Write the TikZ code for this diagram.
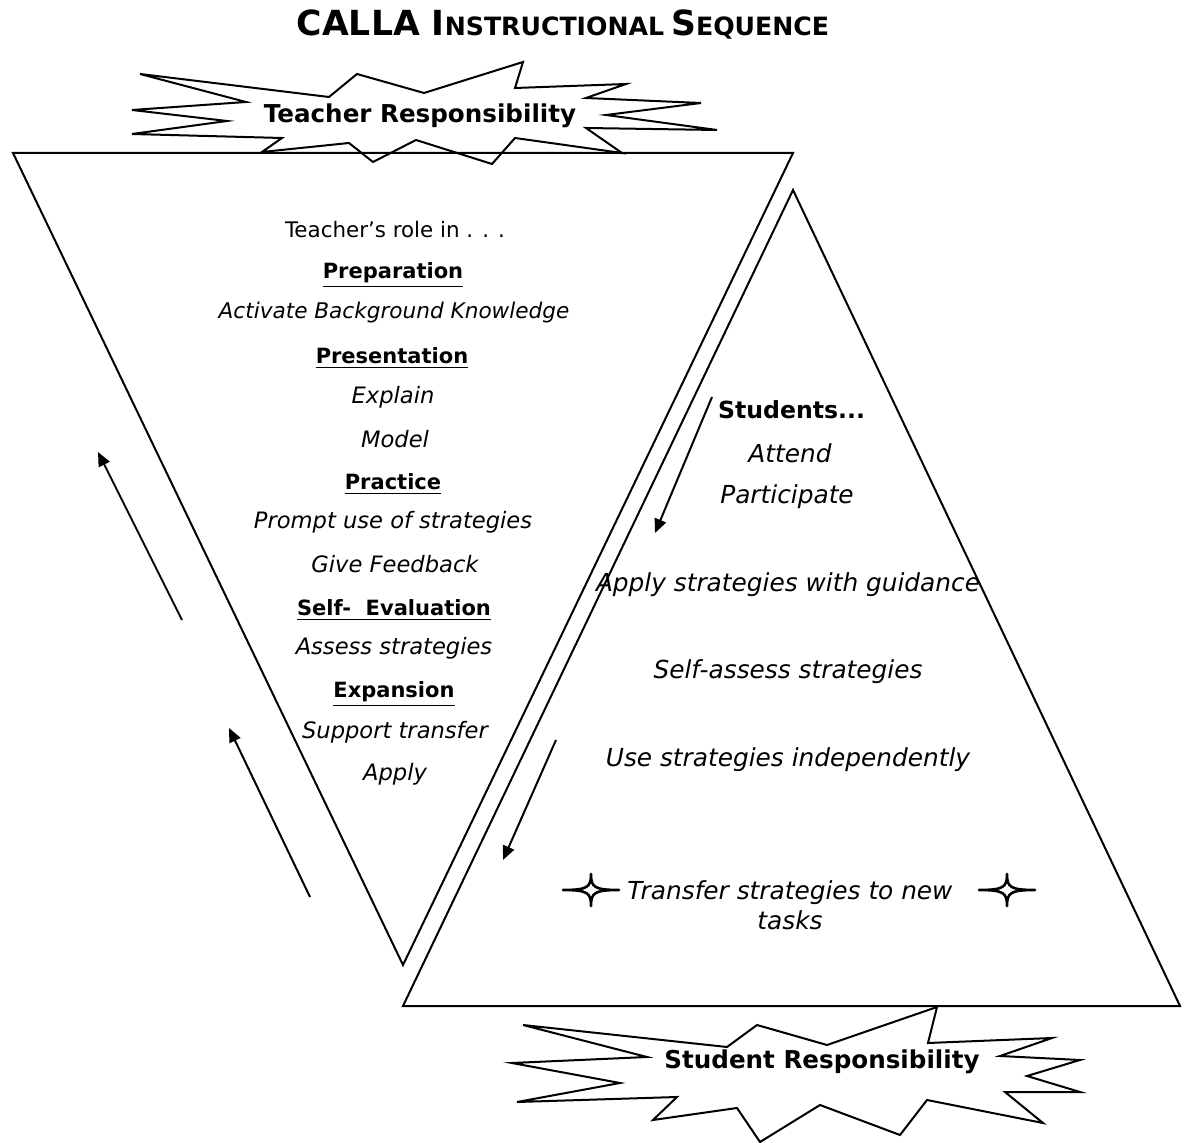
\documentclass[tikz,border=0pt]{standalone}
\usepackage{fontspec}
\setmainfont{DejaVu Sans}
\usetikzlibrary{arrows.meta}
\tikzset{
  edge/.style={line width=1pt, line join=miter},
  burst/.style={line width=1pt, fill=white, line join=miter},
  sparkle/.style={line width=1.3pt, fill=white, line join=round},
  flow/.style={line width=1pt, -{Triangle[length=7pt,width=6pt]}},
  rm/.style={font=\fontsize{10.7}{12}\selectfont},
  it/.style={font=\fontsize{11.3}{13}\selectfont\itshape},
  rit/.style={font=\fontsize{12.4}{14}\selectfont\itshape},
  hd/.style={font=\fontsize{10.5}{12}\selectfont\bfseries},
  big/.style={font=\fontsize{12.3}{14}\selectfont\bfseries},
}
\newcommand{\ul}[1]{\underline{#1}}
\begin{document}
\begin{tikzpicture}[x=0.5pt,y=-0.5pt]
\useasboundingbox (0,0) rectangle (1188,1143);
% title
\node[font=\bfseries] (title) at (563,25) {{\fontsize{17.3}{18}\selectfont CALLA I}{\fontsize{12.6}{14}\selectfont NSTRUCTIONAL} {\fontsize{17.3}{18}\selectfont S}{\fontsize{12.6}{14}\selectfont EQUENCE}};
% top burst
\draw[burst] (140,74) -- (329,97) -- (357,74) -- (424,93) -- (523,62) -- (515,88) -- (626,84) -- (586,98) -- (701,103) -- (606,115) -- (717,130) -- (586,128) -- (622,153) -- (515,138) -- (492,164) -- (416,140) -- (373,162) -- (349,143) -- (262,152) -- (282,138) -- (132,134) -- (227,121) -- (132,110) -- (246,102) -- cycle;
\node[big] (teacher) at (420,116) {Teacher Responsibility};
% inverted triangle
\coordinate (tl) at (13,153);
\coordinate (tr) at (793,153);
\coordinate (tb) at (403,965);
\draw[edge] (tl) -- (tr) -- (tb) -- cycle;
% triangle
\coordinate (sa) at (793,190);
\coordinate (sl) at (403,1006);
\coordinate (sr) at (1180,1006);
\draw[edge] (sa) -- (sr) -- (sl) -- cycle;
% bottom burst
\draw[burst] (523,1025) -- (727,1047) -- (757,1025) -- (827,1045) -- (937,1007) -- (928,1043) -- (1052,1038) -- (1000,1056) -- (1080,1060) -- (1027,1076) -- (1080,1092) -- (1005,1092) -- (1043,1123) -- (927,1100) -- (900,1135) -- (820,1105) -- (760,1142) -- (737,1108) -- (653,1120) -- (677,1097) -- (517,1102) -- (620,1083) -- (512,1063) -- (647,1057) -- cycle;
\node[big] (student) at (822,1062) {Student Responsibility};
% left text column
\node[rm] (t1) at (395,230) {Teacher’s role in . . .};
\node[hd] (t2) at (393,275) {\ul{Preparation}};
\node[it, font=\fontsize{10.8}{13}\selectfont\itshape] (t3) at (394,313) {Activate Background Knowledge};
\node[hd] (t4) at (392,358) {\ul{Presentation}};
\node[it] (t5) at (393,397) {Explain};
\node[it] (t6) at (395,439) {Model};
\node[hd] (t7) at (393,484) {\ul{Practice}};
\node[it] (t8) at (393,522) {Prompt use of strategies};
\node[it] (t9) at (395,564) {Give Feedback};
\node[hd] (t10) at (394,610) {\ul{Self-\ \ Evaluation}};
\node[it] (t11) at (394,648) {Assess strategies};
\node[hd] (t12) at (394,694) {\ul{Expansion}};
\node[it] (t13) at (395,732) {Support transfer};
\node[it] (t14) at (395,774) {Apply};
% right text column
\node[font=\fontsize{11.8}{13}\selectfont\bfseries, anchor=west] (s1) at (711,410) {Students...};
\node[rit] (s2) at (790,453) {Attend};
\node[rit] (s3) at (787,497) {Participate};
\node[rit] (s4) at (788,585) {Apply strategies with guidance};
\node[rit] (s5) at (788,672) {Self-assess strategies};
\node[rit] (s6) at (788,760) {Use strategies independently};
\node[rit, align=center] (s7) at (790,905) {Transfer strategies to new\\[1pt]tasks};
% sparkles
\foreach \n/\cx in {spa/591, spb/1007}{
  \coordinate (\n) at (\cx,890);
  \draw[sparkle] (\n) ++(-28,0)
    .. controls ++(25,0) and ++(0,13) .. ++(28,-16)
    .. controls ++(0,13) and ++(-25,0) .. ++(28,16)
    .. controls ++(-25,0) and ++(0,-13) .. ++(-28,16)
    .. controls ++(0,-13) and ++(25,0) .. cycle;
}
% arrows
\coordinate (a1s) at (182,620); \coordinate (a1e) at (98,452);
\coordinate (a2s) at (310,897); \coordinate (a2e) at (229,728);
\coordinate (a3s) at (712,397); \coordinate (a3e) at (655,533);
\coordinate (a4s) at (556,740); \coordinate (a4e) at (503,860);
\draw[flow] (a1s) -- (a1e);
\draw[flow] (a2s) -- (a2e);
\draw[flow] (a3s) -- (a3e);
\draw[flow] (a4s) -- (a4e);
\end{tikzpicture}
\end{document}
